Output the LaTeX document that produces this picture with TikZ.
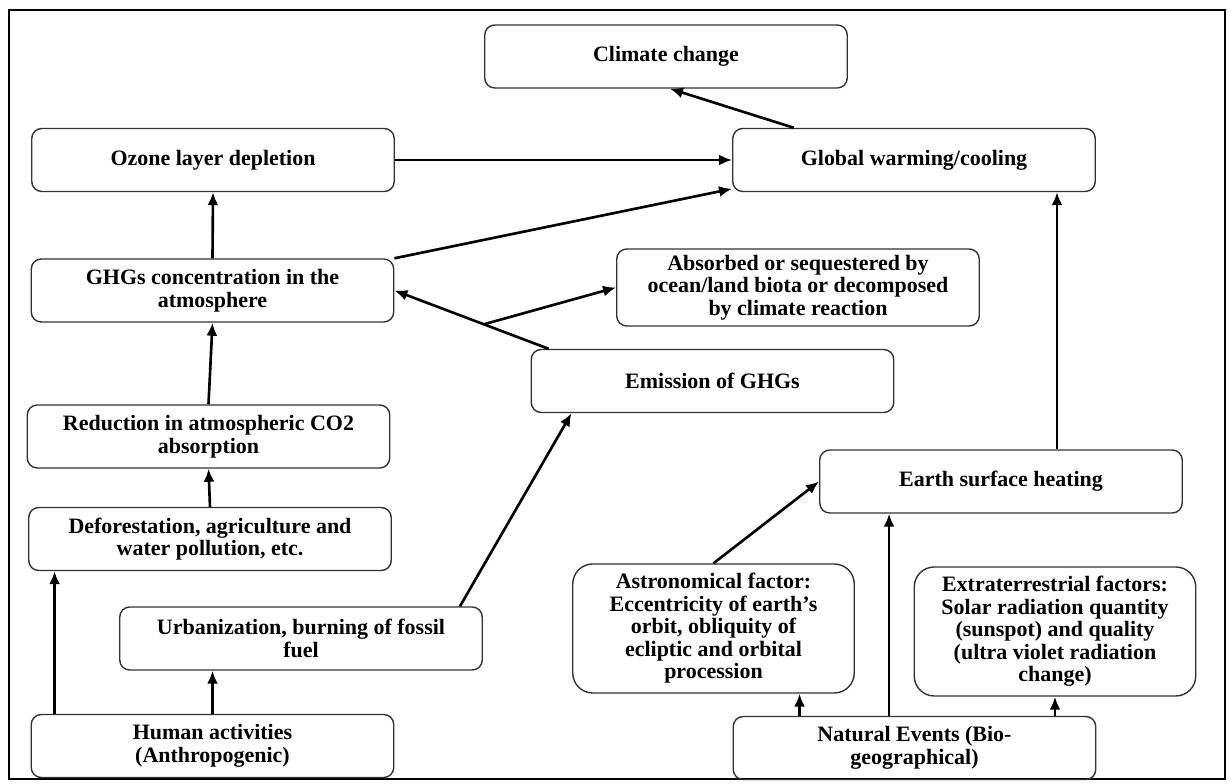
\documentclass[tikz,border=0pt]{standalone}
\usepackage{fontspec}
\setmainfont{Liberation Serif}
\usetikzlibrary{arrows.meta}

\tikzset{
    box/.style={draw=black!80, line width=0.8pt, rounded corners=0.2cm, align=center,
        minimum width=7.25cm, minimum height=1.26cm, font=\fontsize{12.5}{12.8}\selectfont\bfseries},
    bigbox/.style={box, rounded corners=0.4cm, minimum width=5.63cm, minimum height=2.58cm},
    flow/.style={->, line width=1.5pt},
}

\begin{document}
\begin{tikzpicture}[>={Latex[length=2.6mm,width=2.2mm]}]
        \useasboundingbox (0,0) rectangle (24.58,15.68);
        \draw [line width=1.4pt] (0.18,0.1) rectangle (24.5,15.48);

        % top rows
        \node (climate) at (13.32,14.55) [box] {Climate change};
        \node (ozone) at (4.26,12.48) [box] {Ozone layer depletion};
        \node (warming) at (18.28,12.48) [box] {Global warming/cooling};
        \node (ghgs) at (4.25,9.87) [box] {GHGs concentration in the\\atmosphere};
        \node (absorbed) at (15.96,9.93) [box, minimum height=1.54cm] {Absorbed or sequestered by\\ocean/land biota or decomposed\\by climate reaction};
        \node (emission) at (14.25,8.06) [box] {Emission of GHGs};

        % human side
        \node (reduction) at (4.17,6.95) [box] {Reduction in atmospheric CO2\\absorption};
        \node (deforest) at (4.20,4.90) [box] {Deforestation, agriculture and\\water pollution, etc.};
        \node (urban) at (6.02,2.91) [box] {Urbanization, burning of fossil\\fuel};
        \node (human) at (4.25,0.76) [box] {Human activities\\(Anthropogenic)};

        % natural side
        \node (heating) at (20.02,6.05) [box] {Earth surface heating};
        \node (astro) at (14.27,3.11) [bigbox] {Astronomical factor:\\Eccentricity of earth's\\orbit, obliquity of\\ecliptic and orbital\\procession};
        \node (extra) at (21.10,3.05) [bigbox] {Extraterrestrial factors:\\Solar radiation quantity\\(sunspot) and quality\\(ultra violet radiation\\change)};
        \node (natural) at (18.29,0.72) [box] {Natural Events (Bio-\\geographical)};

        \draw [flow] (warming.165) -- (climate.277);
        \draw [flow] (ozone.east) -- (warming.west);
        \draw [flow] (ghgs.north east) -- (warming.189);
        \draw [flow] ([xshift=0.36cm]emission.north west) -- coordinate[pos=0.42] (fork) (ghgs.east);
        \draw [flow] (fork) -- (absorbed.west);
        \draw [flow] (ghgs.north) -- (ozone.south);
        \draw [flow] (reduction.north) -- (ghgs.south);
        \draw [flow] (deforest.north) -- (reduction.south);
        \draw [flow] ([xshift=0.48cm]human.north west) -- ([xshift=0.48cm]human.north west |- deforest.south);
        \draw [flow] (human.north) -- (human.north |- urban.south);
        \draw [flow] ([xshift=-0.46cm]urban.north east) -- ([xshift=0.82cm]emission.south west);
        \draw [flow] ([xshift=1.34cm]natural.north west) -- ([xshift=1.34cm]natural.north west |- astro.south);
        \draw [flow] ([xshift=1.4cm]heating.south west |- natural.north) -- ([xshift=1.4cm]heating.south west);
        \draw [flow] (extra.south |- natural.north) -- (extra.south);
        \draw [flow] (astro.north) -- (heating.west);
        \draw [flow] ([xshift=1.12cm]heating.north) -- ([xshift=1.12cm]heating.north |- warming.south);
    \end{tikzpicture}
\end{document}
